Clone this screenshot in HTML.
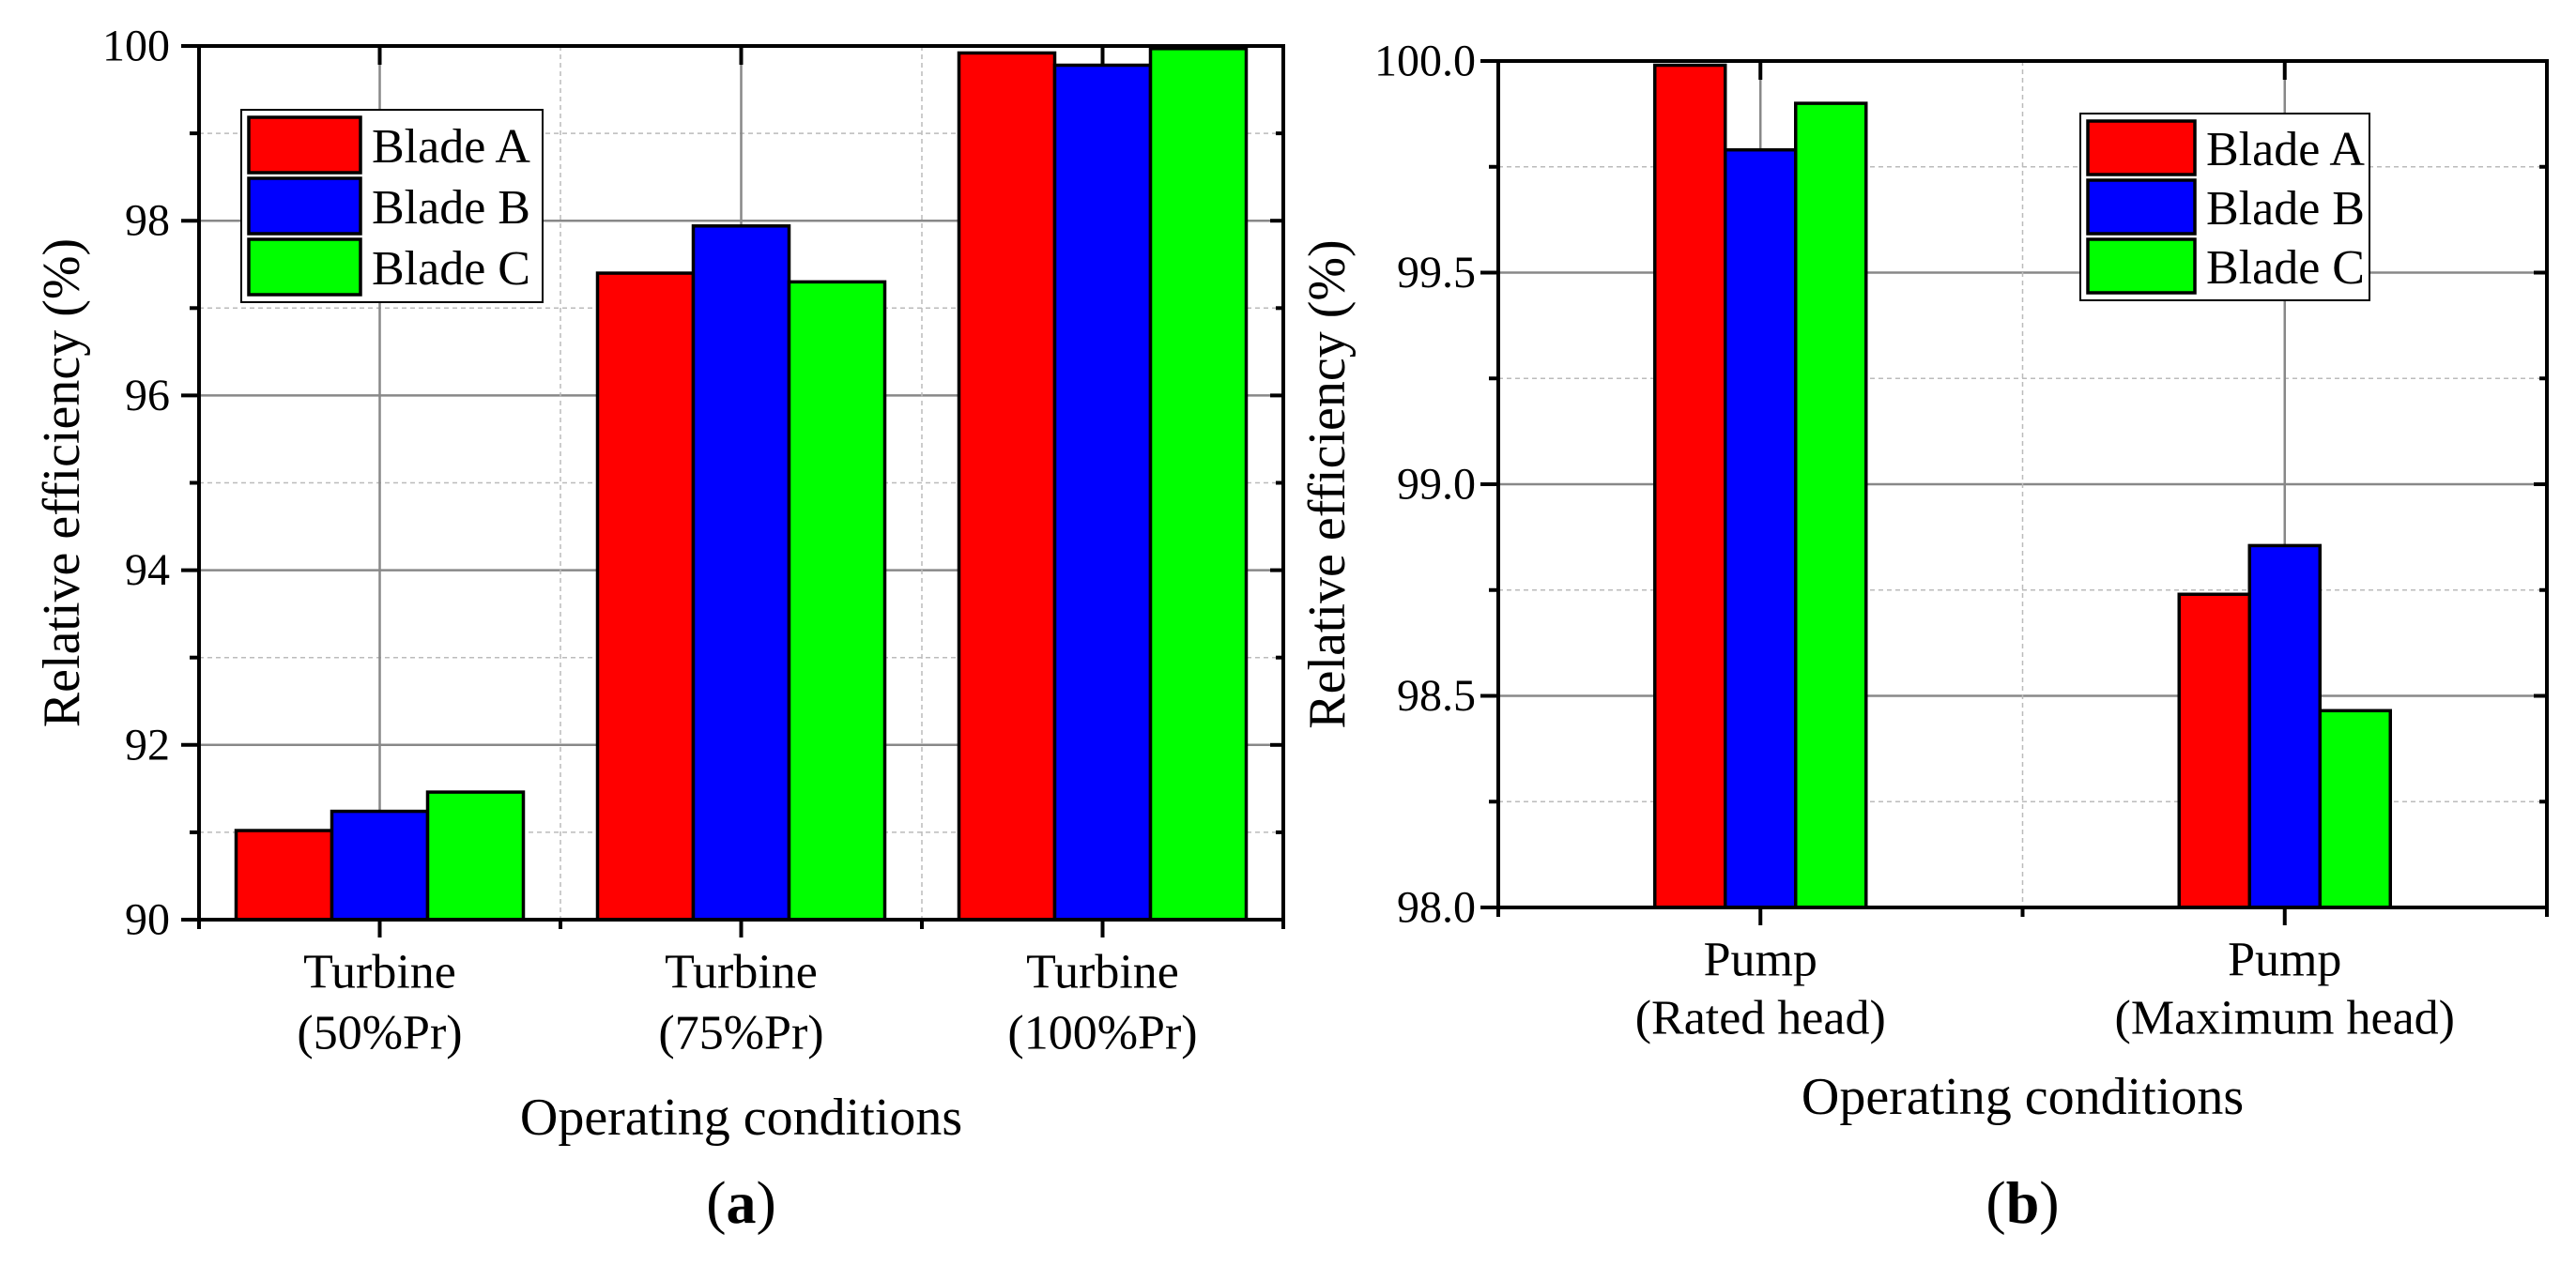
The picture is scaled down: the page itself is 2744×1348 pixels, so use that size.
<!DOCTYPE html>
<html><head><meta charset="utf-8">
<style>
html,body{margin:0;padding:0;background:#fff;}
svg{display:block;font-family:"Liberation Serif",serif;}
</style></head>
<body>
<svg id="chart" width="2744" height="1348" viewBox="0 0 2744 1348" xmlns="http://www.w3.org/2000/svg"></svg>
<script>
// Panel (a) data
const catsA = ["Turbine|(50%Pr)", "Turbine|(75%Pr)", "Turbine|(100%Pr)"];
const aBladeA = [91.02, 97.40, 99.92];
const aBladeB = [91.24, 97.94, 99.78];
const aBladeC = [91.46, 97.30, 99.97];
const aTicks = [90, 92, 94, 96, 98, 100];
const aTickLabels = ["90", "92", "94", "96", "98", "100"];
// Panel (b) data
const catsB = ["Pump|(Rated head)", "Pump|(Maximum head)"];
const bBladeA = [99.99, 98.74];
const bBladeB = [99.79, 98.855];
const bBladeC = [99.90, 98.465];
const bTicks = [98.0, 98.5, 99.0, 99.5, 100.0];
const bTickLabels = ["98.0", "98.5", "99.0", "99.5", "100.0"];
const seriesNames = ["Blade A", "Blade B", "Blade C"];
const colors = ["#ff0000", "#0000ff", "#00ff00"];

const NS = "http://www.w3.org/2000/svg";
const svg = document.getElementById("chart");
function mk(tag, attrs, parent) {
  const e = document.createElementNS(NS, tag);
  for (const k in attrs) e.setAttribute(k, attrs[k]);
  (parent || svg).appendChild(e);
  return e;
}

function panel(cfg) {
  const g = mk("g", {});
  
  
  const {L, R, T, B, ymin, ymax, cats, series, ticks, tickLabels} = cfg;
  const y = v => B - (v - ymin) / (ymax - ymin) * (B - T);
  const step = (R - L) / cats.length;
  const x = i => L + step * (i + 0.5);
  const grid = mk("g", {}, g);
  
  
  for (let i = 0; i < ticks.length; i++) {
    const yy = y(ticks[i]);
    if (i > 0 && i < ticks.length - 1) mk("line", {x1: L, x2: R, y1: yy, y2: yy, stroke: "#888", "stroke-width": 2.5}, grid);
    if (i < ticks.length - 1) {
      const ym = y((ticks[i] + ticks[i + 1]) / 2);
      mk("line", {x1: L, x2: R, y1: ym, y2: ym, stroke: "#bbb", "stroke-width": 1.5, "stroke-dasharray": "5,4"}, grid);
    }
  }
  for (let i = 0; i < cats.length; i++) {
    mk("line", {x1: x(i), x2: x(i), y1: T, y2: B, stroke: "#888", "stroke-width": 2.5}, grid);
    if (i > 0) mk("line", {x1: L + step * i, x2: L + step * i, y1: T, y2: B, stroke: "#bbb", "stroke-width": 1.5, "stroke-dasharray": "5,4"}, grid);
  }
  const bw = cfg.barW;
  for (let s = 0; s < series.length; s++) {
    for (let i = 0; i < cats.length; i++) {
      const x0 = x(i) - 1.5 * bw + s * bw;
      const yv = y(series[s][i]);
      const r = mk("rect", {x: x0, y: yv, width: bw, height: B - yv, fill: colors[s], stroke: "#000", "stroke-width": 3.5}, g);
      
      
    }
  }
  const fr = mk("rect", {x: L, y: T, width: R - L, height: B - T, fill: "none", stroke: "#000", "stroke-width": 4}, g);
  
  
  for (let i = 0; i < ticks.length; i++) {
    const yy = y(ticks[i]);
    mk("line", {x1: L - 19, x2: L, y1: yy, y2: yy, stroke: "#000", "stroke-width": 4}, g);
    mk("line", {x1: R - 14, x2: R, y1: yy, y2: yy, stroke: "#000", "stroke-width": 4}, g);
    if (i < ticks.length - 1) {
      const ym = y((ticks[i] + ticks[i + 1]) / 2);
      mk("line", {x1: L - 10, x2: L, y1: ym, y2: ym, stroke: "#000", "stroke-width": 4}, g);
      mk("line", {x1: R - 8, x2: R, y1: ym, y2: ym, stroke: "#000", "stroke-width": 4}, g);
    }
    const t = mk("text", {x: cfg.tickR, y: yy, "text-anchor": "end", "dominant-baseline": "central", "font-size": 48}, g);
    t.textContent = tickLabels[i];
    
    
  }
  for (let i = 0; i <= cats.length; i++) {
    const xx = L + step * i;
    mk("line", {x1: xx, x2: xx, y1: B, y2: B + 10, stroke: "#000", "stroke-width": 4}, g);
    if (i < cats.length) {
      mk("line", {x1: x(i), x2: x(i), y1: B, y2: B + 19, stroke: "#000", "stroke-width": 4}, g);
      mk("line", {x1: x(i), x2: x(i), y1: T, y2: T + 20, stroke: "#000", "stroke-width": 4}, g);
      const parts = cats[i].split("|");
      const t1 = mk("text", {x: x(i), y: cfg.xl1, "text-anchor": "middle", "dominant-baseline": "central", "font-size": 52}, g);
      t1.textContent = parts[0];
      
      
      const t2 = mk("text", {x: x(i), y: cfg.xl2, "text-anchor": "middle", "dominant-baseline": "central", "font-size": 52}, g);
      t2.textContent = parts[1];
      
      
    }
  }
  const xt = mk("text", {x: (L + R) / 2, y: cfg.xtY, "text-anchor": "middle", "dominant-baseline": "central", "font-size": 56}, g);
  xt.textContent = "Operating conditions";
  
  
  const yt = mk("text", {x: 0, y: 0, "text-anchor": "middle", "dominant-baseline": "central", "font-size": 56, transform: `translate(${cfg.ytX},${(T + B) / 2}) rotate(-90)`}, g);
  yt.textContent = "Relative efficiency (%)";
  
  
  const lab = mk("text", {x: (L + R) / 2, y: 1281, "text-anchor": "middle", "dominant-baseline": "central", "font-size": 64}, g);
  lab.innerHTML = '(<tspan font-weight="bold">' + cfg.letter + '</tspan>)';
  
  
  const lg = mk("g", {}, g);
  
  
  const lb = cfg.legend;
  mk("rect", {x: lb.x, y: lb.y, width: lb.w, height: lb.h, fill: "#fff", stroke: "#000", "stroke-width": 2}, lg);
  const rowH = (lb.h - 10) / 3;
  for (let s = 0; s < 3; s++) {
    const ry = lb.y + 6 + s * rowH;
    const ent = mk("g", {}, lg);
    
    
    mk("rect", {x: lb.x + 8, y: ry + 2, width: lb.sw, height: rowH - 6, fill: colors[s], stroke: "#000", "stroke-width": 3.5}, ent);
    const t = mk("text", {x: lb.x + 8 + lb.sw + 12, y: ry + rowH / 2 + 1, "dominant-baseline": "central", "font-size": 52}, ent);
    t.textContent = seriesNames[s];
  }
}

panel({name: "panel-a-turbine", letter: "a", L: 212, R: 1367, T: 49, B: 980, ymin: 90, ymax: 100,
  cats: catsA, series: [aBladeA, aBladeB, aBladeC], ticks: aTicks, tickLabels: aTickLabels,
  barW: 102, xl1: 1036, xl2: 1101, xtY: 1191, ytX: 66, tickR: 181,
  legend: {x: 257, y: 117, w: 321, h: 205, sw: 119}});
panel({name: "panel-b-pump", letter: "b", L: 1596, R: 2713, T: 65, B: 967, ymin: 98, ymax: 100,
  cats: catsB, series: [bBladeA, bBladeB, bBladeC], ticks: bTicks, tickLabels: bTickLabels,
  barW: 75, xl1: 1023, xl2: 1085, xtY: 1169, ytX: 1414, tickR: 1572,
  legend: {x: 2216, y: 121, w: 308, h: 199, sw: 114}});
</script>
</body></html>
